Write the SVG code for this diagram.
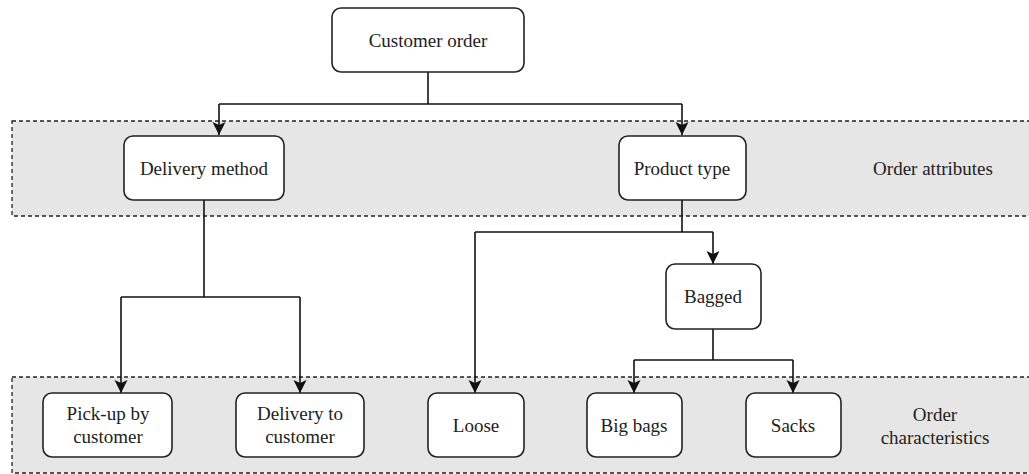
<svg xmlns="http://www.w3.org/2000/svg" width="1029" height="474" viewBox="0 0 1029 474">
<style>
.band{fill:#e6e6e6;stroke:#222;stroke-width:1.3;stroke-dasharray:4 3}
.node{fill:#fff;stroke:#222;stroke-width:1.6}
.t{font-family:'Liberation Serif','DejaVu Serif',serif;font-size:19px;fill:#222;text-anchor:middle}
.c{fill:none;stroke:#111;stroke-width:1.6}
</style>
<defs>
<marker id="arr" viewBox="0 -7 14 14" markerWidth="14" markerHeight="14" refX="13" refY="0" orient="auto" markerUnits="userSpaceOnUse">
<path d="M0,-6.5 L13,0 L0,6.5 L3,0 Z" fill="#111"/>
</marker>
</defs>
<rect fill="#fff" x="0" y="0" width="1029" height="474"/>
<g id="band-attributes">
<rect class="band" x="12" y="121" width="1030" height="95"/>
<text class="t" x="933" y="175" font-family="Liberation Serif">Order attributes</text>
</g>
<g id="band-characteristics">
<rect class="band" x="12" y="377" width="1030" height="96"/>
<text class="t" x="935" y="421" font-family="Liberation Serif">Order</text>
<text class="t" x="935" y="444" font-family="Liberation Serif">characteristics</text>
</g>
<g id="connectors">
<path class="c" d="M428,72 V104"/>
<path class="c" d="M219,104 H682"/>
<path class="c" d="M219,104 V135" marker-end="url(#arr)"/>
<path class="c" d="M682,104 V135" marker-end="url(#arr)"/>
<path class="c" d="M204,200 V297"/>
<path class="c" d="M121,297 H300"/>
<path class="c" d="M121,297 V393" marker-end="url(#arr)"/>
<path class="c" d="M300,297 V393" marker-end="url(#arr)"/>
<path class="c" d="M682,200 V232"/>
<path class="c" d="M475,232 H713"/>
<path class="c" d="M475,232 V393" marker-end="url(#arr)"/>
<path class="c" d="M713,232 V264" marker-end="url(#arr)"/>
<path class="c" d="M713,329 V360"/>
<path class="c" d="M634,360 H793"/>
<path class="c" d="M634,360 V393" marker-end="url(#arr)"/>
<path class="c" d="M793,360 V393" marker-end="url(#arr)"/>
</g>
<g id="customer-order">
<rect class="node" x="332" y="8" width="192" height="64" rx="9"/>
<text class="t" x="428" y="47" font-family="Liberation Serif">Customer order</text>
</g>
<g id="delivery-method">
<rect class="node" x="124" y="136" width="160" height="64" rx="9"/>
<text class="t" x="204" y="175" font-family="Liberation Serif">Delivery method</text>
</g>
<g id="product-type">
<rect class="node" x="619" y="136" width="127" height="64" rx="9"/>
<text class="t" x="682" y="175" font-family="Liberation Serif">Product type</text>
</g>
<g id="bagged">
<rect class="node" x="666" y="264" width="95" height="65" rx="9"/>
<text class="t" x="713" y="303" font-family="Liberation Serif">Bagged</text>
</g>
<g id="pickup">
<rect class="node" x="43" y="393" width="129" height="64" rx="9"/>
<text class="t" x="108" y="420" font-family="Liberation Serif">Pick-up by</text>
<text class="t" x="108" y="443" font-family="Liberation Serif">customer</text>
</g>
<g id="delivery-to-customer">
<rect class="node" x="236" y="393" width="128" height="64" rx="9"/>
<text class="t" x="300" y="420" font-family="Liberation Serif">Delivery to</text>
<text class="t" x="300" y="443" font-family="Liberation Serif">customer</text>
</g>
<g id="loose">
<rect class="node" x="428" y="393" width="96" height="64" rx="9"/>
<text class="t" x="476" y="432" font-family="Liberation Serif">Loose</text>
</g>
<g id="big-bags">
<rect class="node" x="587" y="393" width="95" height="64" rx="9"/>
<text class="t" x="634" y="432" font-family="Liberation Serif">Big bags</text>
</g>
<g id="sacks">
<rect class="node" x="746" y="393" width="95" height="64" rx="9"/>
<text class="t" x="793" y="432" font-family="Liberation Serif">Sacks</text>
</g>
</svg>
